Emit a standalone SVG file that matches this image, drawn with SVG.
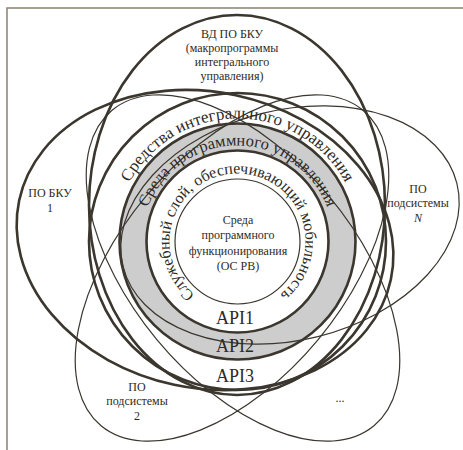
<svg xmlns="http://www.w3.org/2000/svg" width="463" height="450" viewBox="0 0 463 450">
<defs>
<style>
.thick{fill:none;stroke:#3b372f;stroke-width:2.6}
.thin{fill:none;stroke:#3b372f;stroke-width:1.2}
text{font-family:"Liberation Serif","DejaVu Serif","Times New Roman",serif;fill:#2e2b25}
.lbl{font-size:12px;text-anchor:middle}
.api{font-size:18px;text-anchor:middle}
</style>
<path id="p1" d="M 114.5,241.5 A 123 123 0 0 1 360.5,241.5"/>
<path id="p2" d="M 141.5,241.5 A 96 96 0 0 1 333.5,241.5"/>
<path id="p3" d="M 237.5,309.5 A 68 68 0 0 1 237.5,173.5 A 68 68 0 0 1 237.5,309.5"/>
</defs>
<rect width="463" height="450" fill="#ffffff"/>
<path d="M 7,450 V 8 H 463" fill="none" stroke="#8a8272" stroke-width="1.5"/>
<g id="ring-fill">
<circle cx="237.5" cy="241.5" r="104.5" fill="none" stroke="#cdcdcd" stroke-width="27"/>
</g>
<g id="connectors">
<ellipse id="petal-top" class="thick" cx="237" cy="205" rx="148" ry="190"/>
<ellipse id="petal-left" class="thick" cx="205" cy="240" rx="190" ry="148" transform="rotate(12 205 240)"/>
<ellipse id="petal-right" class="thin" cx="290" cy="225" rx="172" ry="115" transform="rotate(-14 290 225)"/>
<ellipse id="petal-bl" class="thin" cx="232" cy="268" rx="205" ry="112" transform="rotate(-50.3 232 268)"/>
<ellipse id="petal-br" class="thin" cx="243" cy="268" rx="205" ry="112" transform="rotate(50.3 243 268)"/>
</g>
<g id="circle-sredstva"><circle class="thick" cx="237.5" cy="241.5" r="148.5"/>
<text font-size="17"><textPath href="#p1" startOffset="50%" text-anchor="middle">Средства интегрального управления</textPath></text></g>
<g id="circle-program"><circle class="thick" cx="237.5" cy="241.5" r="118" stroke-width="3.2"/>
<text font-size="16.5"><textPath href="#p2" startOffset="50%" text-anchor="middle">Среда программного управления</textPath></text></g>
<g id="circle-service"><circle class="thick" cx="237.5" cy="241.5" r="91"/>
<text font-size="16"><textPath href="#p3" startOffset="50%" text-anchor="middle">Служебный слой, обеспечивающий мобильность</textPath></text></g>
<g id="circle-inner"><circle class="thin" cx="237.5" cy="241.5" r="62.5"/>
<text class="lbl" x="238" y="224">Среда</text>
<text class="lbl" x="238" y="239">программного</text>
<text class="lbl" x="238" y="255">функционирования</text>
<text class="lbl" x="238" y="270">(ОС РВ)</text></g>
<g id="api">
<text class="api" x="235" y="324">API1</text>
<text class="api" x="235" y="352">API2</text>
<text class="api" x="235" y="382">API3</text>
</g>
<g id="label-top">
<text class="lbl" x="232" y="38">ВД ПО БКУ</text>
<text class="lbl" x="232" y="52">(макропрограммы</text>
<text class="lbl" x="232" y="66">интегрального</text>
<text class="lbl" x="232" y="80">управления)</text>
</g>
<g id="label-left"><text class="lbl" x="50" y="197">ПО БКУ</text><text class="lbl" x="50" y="212">1</text></g>
<g id="label-right"><text class="lbl" x="418" y="193">ПО</text><text class="lbl" x="418" y="207">подсистемы</text><text class="lbl" x="418" y="222" font-style="italic">N</text></g>
<g id="label-bl"><text class="lbl" x="137" y="391">ПО</text><text class="lbl" x="137" y="405">подсистемы</text><text class="lbl" x="137" y="420">2</text></g>
<g id="label-br"><text class="lbl" x="340" y="402">...</text></g>
</svg>
